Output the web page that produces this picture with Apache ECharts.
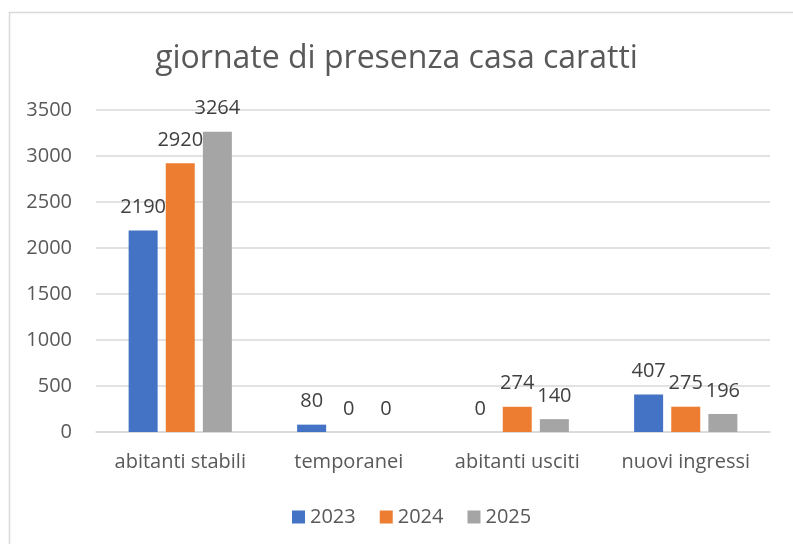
<!DOCTYPE html>
<html>
<head>
<meta charset="utf-8">
<script src="https://cdn.jsdelivr.net/npm/echarts@6/dist/echarts.min.js"></script>
<style>
  html, body { margin: 0; padding: 0; background: #fff; }
  #chart { width: 793px; height: 544px; }
</style>
</head>
<body>
<div id="chart"></div>
<script>
const categories = ['abitanti stabili', 'temporanei', 'abitanti usciti', 'nuovi ingressi']
const years = ['2023', '2024', '2025']
const values2023 = [2190, 80, 0, 407]
const values2024 = [2920, 0, 274, 275]
const values2025 = [3264, 0, 140, 196]
const colors = ['#4472c4', '#ed7d31', '#a5a5a5']

const font = '"Open Sans", sans-serif'

const chart = echarts.init(document.getElementById('chart'))

const makeSeries = (name, data, color) => ({
  name,
  type: 'bar',
  data,
  barWidth: 29,
  barGap: '28%',
  itemStyle: { color },
  label: {
    show: true,
    position: 'top',
    distance: 13,
    color: '#404040',
    fontSize: 20,
    fontFamily: font
  }
})

chart.setOption({
  animation: false,
  backgroundColor: '#fff',
  graphic: [{
    type: 'rect',
    left: 7,
    top: 10,
    shape: { width: 820, height: 600 },
    style: { fill: 'none', stroke: '#d9d9d9', lineWidth: 1.5 },
    z: -1
  }],
  title: {
    text: 'giornate di presenza casa caratti',
    left: 'center',
    top: 38,
    textStyle: { color: '#595959', fontSize: 32, fontWeight: 'normal', fontFamily: font }
  },
  legend: {
    bottom: 12,
    left: 287,
    itemWidth: 13,
    itemHeight: 13,
    itemGap: 24,
    icon: 'rect',
    textStyle: { color: '#595959', fontSize: 20, fontFamily: font }
  },
  grid: { left: 96, right: 23, top: 110, bottom: 112 },
  xAxis: {
    type: 'category',
    data: categories,
    axisLine: { lineStyle: { color: '#d9d9d9', width: 1.5 } },
    axisTick: { show: false },
    axisLabel: { color: '#595959', fontSize: 20, fontFamily: font, margin: 20, interval: 0 }
  },
  yAxis: {
    type: 'value',
    min: 0,
    max: 3500,
    interval: 500,
    axisLine: { show: false },
    axisTick: { show: false },
    splitLine: { lineStyle: { color: '#d9d9d9', width: 1.5 } },
    axisLabel: {
      color: '#595959',
      fontSize: 20,
      fontFamily: font,
      margin: 24,
      formatter: (v) => String(v)
    }
  },
  series: [
    makeSeries(years[0], values2023, colors[0]),
    makeSeries(years[1], values2024, colors[1]),
    makeSeries(years[2], values2025, colors[2])
  ]
})
</script>
</body>
</html>
